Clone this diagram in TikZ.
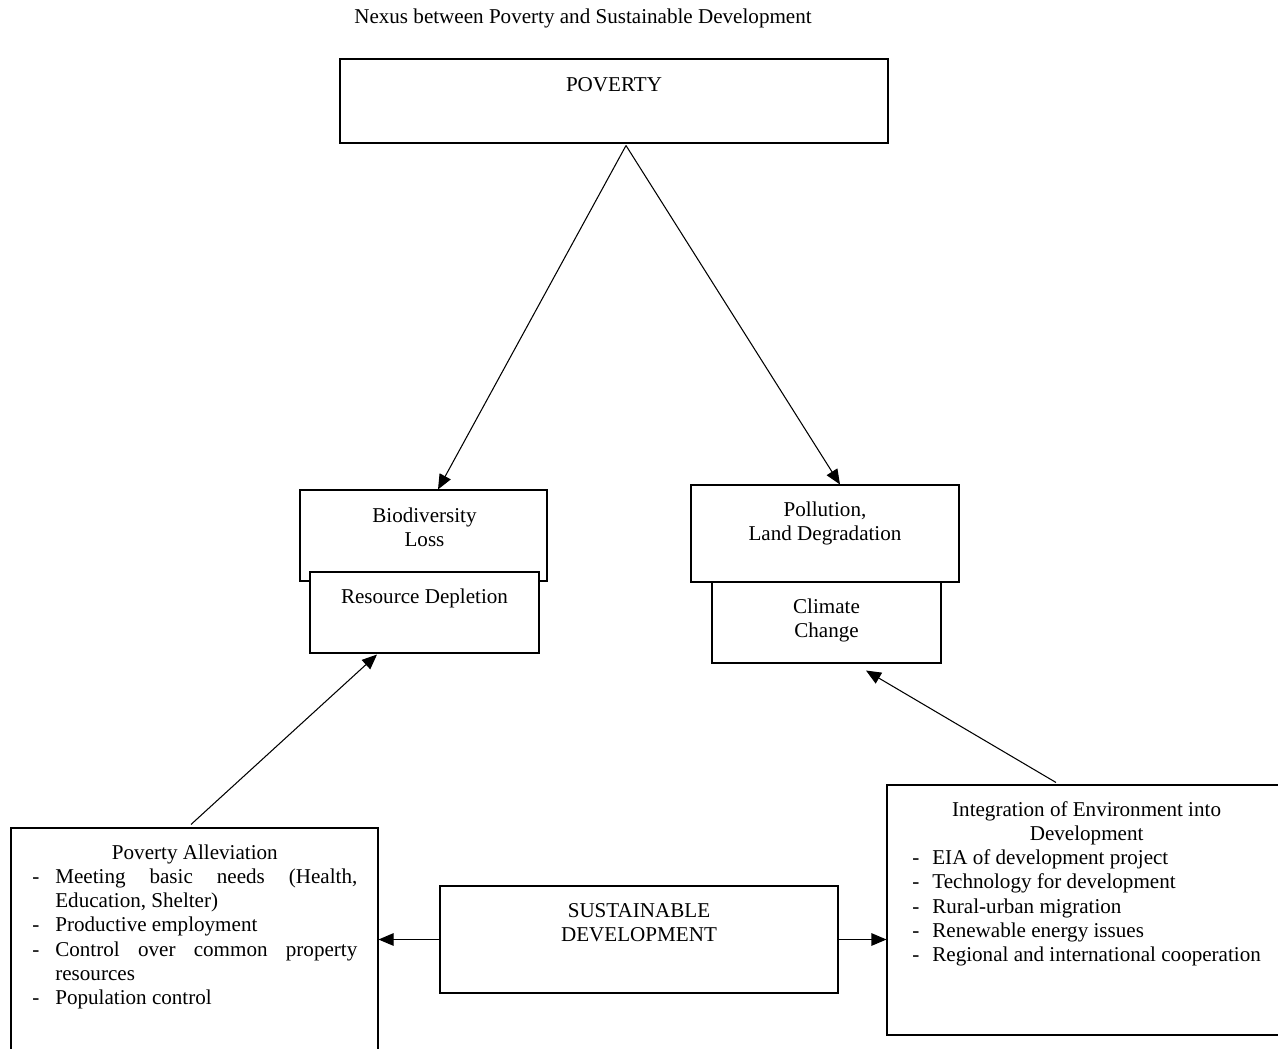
\documentclass[tikz,border=0pt]{standalone}
\usepackage{fontspec}
\setmainfont{Liberation Serif}
\usetikzlibrary{arrows.meta}

\newcommand{\boxlines}[1]{\begin{tabular}[t]{@{}c@{}}#1\end{tabular}}

\tikzset{
  every node/.style={font=\fontsize{12}{13.8}\selectfont},
  box/.style={draw, line width=0.6pt, fill=white, inner sep=0pt},
  txt/.style={anchor=base, inner sep=0pt},
  arr/.style={-{Triangle[length=0.30cm,width=0.25cm]}, line width=0.6pt}
}

\begin{document}
\begin{tikzpicture}
                \useasboundingbox (0,0) rectangle (25.56,-20.98);

                \node[txt] (Title) at (11.66,-0.46) {Nexus between Poverty and Sustainable Development};

                \node[box, minimum width=10.96cm, minimum height=1.68cm] (Poverty) at (12.28,-2.02) {};
                \node[box, minimum width=4.94cm, minimum height=1.82cm] (Biodiversity) at (8.47,-10.71) {};
                \node[box, minimum width=4.58cm, minimum height=1.62cm] (Resource) at (8.49,-12.25) {};
                \node[box, minimum width=5.36cm, minimum height=1.94cm] (Pollution) at (16.50,-10.67) {};
                \node[box, minimum width=4.58cm, minimum height=1.62cm] (Climate) at (16.53,-12.45) {};
                \node[box, minimum width=7.34cm, minimum height=4.64cm] (Alleviation) at (3.89,-18.88) {};
                \node[box, minimum width=7.90cm, minimum height=5.00cm] (Integration) at (21.69,-18.20) {};
                \node[box, minimum width=7.96cm, minimum height=2.14cm] (Sustainable) at (12.78,-18.79) {};

                \node[txt] (PovertyText) at (12.28,-1.82) {POVERTY};
                \node[txt] (BiodiversityText) at (8.49,-10.44) {\boxlines{Biodiversity\\Loss}};
                \node[txt] (ResourceText) at (8.49,-12.06) {Resource Depletion};
                \node[txt] (PollutionText) at (16.50,-10.32) {\boxlines{Pollution,\\Land Degradation}};
                \node[txt] (ClimateText) at (16.53,-12.26) {\boxlines{Climate\\Change}};
                \node[txt] (SustainableText) at (12.78,-18.34) {\boxlines{SUSTAINABLE\\DEVELOPMENT}};

                \node[txt, anchor=base west] (AlleviationText) at (0.64,-17.18) {%
                  \hyphenpenalty=10000 \tolerance=10000
                  \begin{tabular}[t]{@{}p{0.46cm}@{}p{6.04cm}@{}}
                    \multicolumn{2}{@{}c@{}}{Poverty Alleviation}\\
                    - & Meeting basic needs (Health, Education, Shelter)\\
                    - & Productive employment\\
                    - & Control over common property resources\\
                    - & Population control
                  \end{tabular}};
                \node[txt, anchor=base west] (IntegrationText) at (18.24,-16.32) {%
                  \begin{tabular}[t]{@{}p{0.40cm}@{}l@{}}
                    \multicolumn{2}{@{}c@{}}{Integration of Environment into}\\
                    \multicolumn{2}{@{}c@{}}{Development}\\
                    - & EIA of development project\\
                    - & Technology for development\\
                    - & Rural-urban migration\\
                    - & Renewable energy issues\\
                    - & Regional and international cooperation
                  \end{tabular}};

                \draw[arr] ([xshift=0.24cm,yshift=-0.04cm]Poverty.south) -- ([xshift=0.29cm]Biodiversity.north);
                \draw[arr] ([xshift=0.24cm,yshift=-0.04cm]Poverty.south) -- ([xshift=0.30cm]Pollution.north);
                \draw[arr] ([xshift=-0.07cm,yshift=0.06cm]Alleviation.north) -- ([xshift=-0.95cm,yshift=-0.02cm]Resource.south);
                \draw[arr] ([xshift=-0.57cm,yshift=0.04cm]Integration.north) -- ([xshift=0.79cm,yshift=-0.14cm]Climate.south);
                \draw[arr] (Sustainable.west) -- (Sustainable.west -| Alleviation.east);
                \draw[arr] (Sustainable.east) -- (Sustainable.east -| Integration.west);
            \end{tikzpicture}
\end{document}
